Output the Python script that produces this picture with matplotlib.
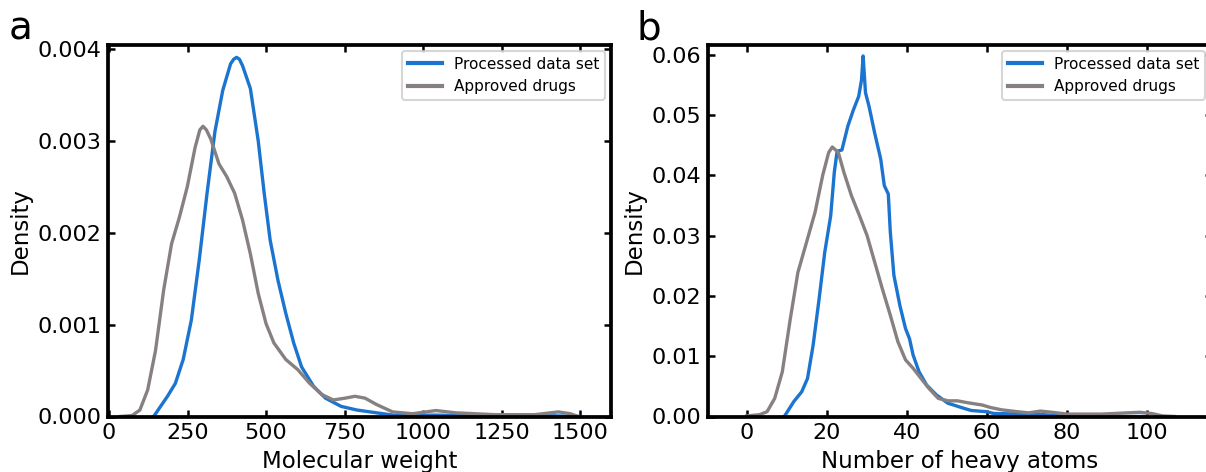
import matplotlib
matplotlib.use("Agg")
import matplotlib.pyplot as plt

# ---------------- data ----------------
mw_processed_x = [142, 186, 211, 236, 262, 287, 312, 337, 362, 387, 397, 406, 415, 425, 450, 475,
                  494, 513, 538, 563, 588, 613, 651, 689, 739, 790, 852, 915, 1041, 1167, 1418, 1500]
mw_processed_y = [0.0, 0.00022, 0.00036, 0.00062, 0.00105, 0.0017, 0.00243, 0.0031, 0.00355,
                  0.00384, 0.00389, 0.00391, 0.00389, 0.00382, 0.00357, 0.0030, 0.00243, 0.00192,
                  0.00148, 0.00112, 0.0008, 0.00054, 0.00033, 0.0002, 0.00011, 0.00007, 0.00004,
                  0.00001, 0.000015, 0.000007, 0.000007, 0.0]

mw_approved_x = [35, 73, 98, 123, 148, 174, 199, 224, 249, 274, 289, 299, 310, 324, 350, 375, 400,
                 425, 450, 475, 500, 525, 563, 601, 639, 677, 714, 752, 783, 815, 852, 903, 966,
                 1041, 1104, 1230, 1355, 1431, 1469, 1494]
mw_approved_y = [0.0, 0.00001, 0.00007, 0.00029, 0.00072, 0.00138, 0.00188, 0.00217, 0.0025,
                 0.00293, 0.00312, 0.00316, 0.00312, 0.00302, 0.00275, 0.00261, 0.00243, 0.00214,
                 0.00177, 0.00134, 0.00101, 0.0008, 0.00062, 0.00051, 0.00036, 0.00024, 0.00018,
                 0.0002, 0.00022, 0.0002, 0.00013, 0.00005, 0.00003, 0.000065, 0.00004, 0.00002,
                 0.00002, 0.00005, 0.00003, 0.0]

ha_processed_x = [9.4, 11.8, 13.75, 15.2, 16.6, 18.1, 19.5, 21.0, 21.9, 22.6, 23.8, 25.3, 26.7,
                  28.0, 28.7, 29.1, 29.7, 30.6, 32.0, 33.5, 34.4, 35.4, 35.9, 36.8, 38.3, 39.7,
                  40.7, 41.6, 43.1, 45.0, 47.4, 50.3, 54.1, 56.1, 59.9, 61.8, 69.5, 74.3, 79.1,
                  88.7, 100.0]
ha_processed_y = [0.0, 0.0025, 0.0041, 0.0063, 0.0118, 0.0195, 0.0272, 0.0333, 0.0405, 0.044,
                  0.0442, 0.0482, 0.0509, 0.0531, 0.0558, 0.0598, 0.0537, 0.0514, 0.047, 0.0427,
                  0.0383, 0.0369, 0.0306, 0.0234, 0.0184, 0.0146, 0.0129, 0.0102, 0.0074, 0.0052,
                  0.0036, 0.0022, 0.0014, 0.001, 0.0008, 0.0005, 0.0004, 0.0003, 0.00005, 0.0, 0.0]

ha_approved_x = [0.0, 3.2, 5.1, 7.0, 8.9, 10.9, 12.8, 14.7, 17.1, 19.0, 20.5, 21.4, 22.9, 24.3,
                 26.2, 28.2, 30.1, 32.0, 33.9, 35.9, 37.8, 39.7, 41.6, 43.6, 45.5, 47.9, 50.3,
                 52.7, 55.1, 58.9, 60.9, 63.8, 67.6, 70.5, 73.4, 76.3, 80.1, 88.7, 98.3, 101.2,
                 104.0, 107.0]
ha_approved_y = [0.0001, 0.0003, 0.0008, 0.003, 0.0074, 0.0162, 0.0239, 0.0283, 0.0339, 0.04,
                 0.0438, 0.0447, 0.0438, 0.0405, 0.0366, 0.0333, 0.03, 0.0256, 0.0212, 0.0168,
                 0.0124, 0.0094, 0.008, 0.0063, 0.0047, 0.003, 0.0026, 0.0026, 0.0023, 0.0019,
                 0.0015, 0.0011, 0.0008, 0.0006, 0.0009, 0.0007, 0.0004, 0.0004, 0.0007, 0.0005,
                 0.0001, 0.0]

series_labels = ["Processed data set", "Approved drugs"]
mw_xticks = [0, 250, 500, 750, 1000, 1250, 1500]
mw_yticks = [0.000, 0.001, 0.002, 0.003, 0.004]
ha_xticks = [0, 20, 40, 60, 80, 100]
ha_yticks = [0.00, 0.01, 0.02, 0.03, 0.04, 0.05, 0.06]

BLUE = "#1b74cf"
GRAY = "#878080"

plt.rcParams["font.family"] = "DejaVu Sans"

fig = plt.figure(figsize=(12.06, 4.72), dpi=100)
W, H = 1206, 472
aw = 504 / W
ah = (416.5 - 44.5) / H
bottom = 1 - 416.5 / H
ax_a = fig.add_axes([107.5 / W, bottom, aw, ah])
ax_b = fig.add_axes([707.5 / W, bottom, aw, ah])


def style(ax):
    for sp in ax.spines.values():
        sp.set_linewidth(2.7)
    ax.tick_params(direction="in", top=True, right=True, length=5, width=1.8,
                   labelsize=16, pad=4.5)


lw = 2.4
ax_a.plot(mw_processed_x, mw_processed_y, color=BLUE, lw=lw, label=series_labels[0],
          solid_joinstyle="round")
ax_a.plot(mw_approved_x, mw_approved_y, color=GRAY, lw=lw, label=series_labels[1],
          solid_joinstyle="round")
ax_a.set_xlim(-5, 1600)
ax_a.set_ylim(0, 0.00405)
ax_a.set_xticks(mw_xticks)
ax_a.set_yticks(mw_yticks)
ax_a.set_yticklabels([f"{v:.3f}" for v in mw_yticks])
ax_a.set_xlabel("Molecular weight", fontsize=16.5, labelpad=5)
ax_a.set_ylabel("Density", fontsize=16.5, labelpad=4)
style(ax_a)

ax_b.plot(ha_processed_x, ha_processed_y, color=BLUE, lw=lw, label=series_labels[0],
          solid_joinstyle="round")
ax_b.plot(ha_approved_x, ha_approved_y, color=GRAY, lw=lw, label=series_labels[1],
          solid_joinstyle="round")
ax_b.set_xlim(-9.8, 116.2)
ax_b.set_ylim(0, 0.0617)
ax_b.set_xticks(ha_xticks)
ax_b.set_yticks(ha_yticks)
ax_b.set_yticklabels([f"{v:.2f}" for v in ha_yticks])
ax_b.set_xlabel("Number of heavy atoms", fontsize=16.5, labelpad=5)
ax_b.set_ylabel("Density", fontsize=16.5, labelpad=4)
style(ax_b)

for ax in (ax_a, ax_b):
    leg = ax.legend(loc="upper right", fontsize=11, frameon=True, fancybox=True,
                    borderaxespad=0.4, handlelength=2.2)
    leg.get_frame().set_edgecolor("#cccccc")
    leg.get_frame().set_linewidth(1.5)
    for l in leg.get_lines():
        l.set_linewidth(3)

fig.text(9 / W, 1 - 39 / H, "a", fontsize=28, ha="left", va="baseline")
fig.text(637 / W, 1 - 39 / H, "b", fontsize=28, ha="left", va="baseline")

fig.savefig("out.png", dpi=100)
